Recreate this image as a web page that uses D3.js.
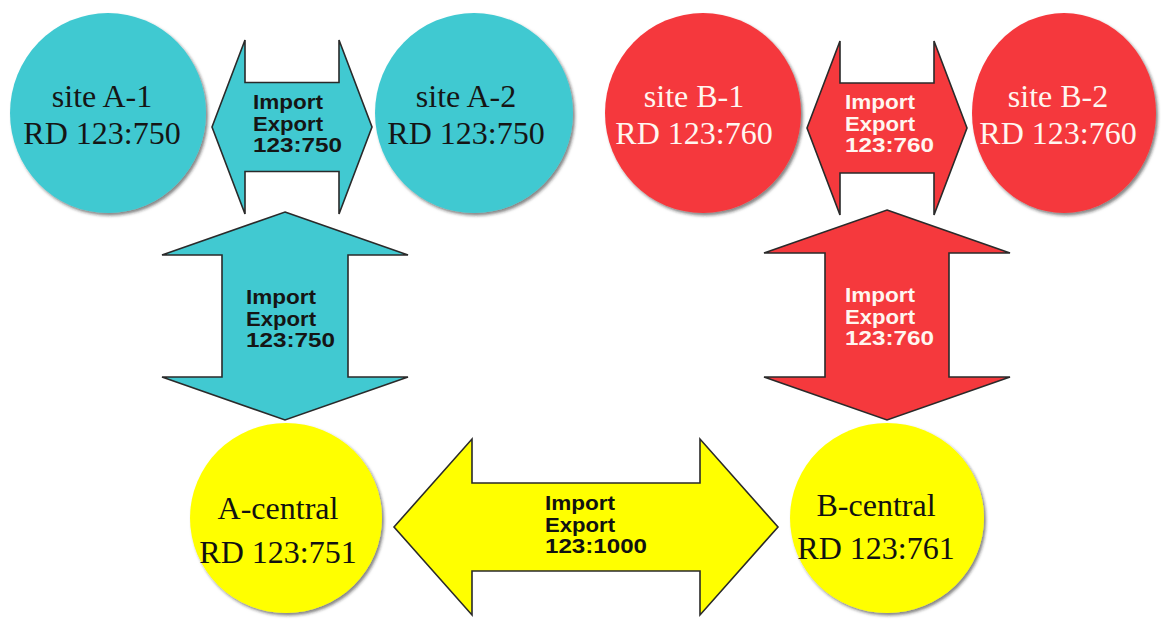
<!DOCTYPE html>
<html>
  <head>
    <meta charset="UTF-8">
    <title>Route target import / export</title>
    <script src="https://d3js.org/d3.v7.min.js"></script>
    <style>
      body { margin: 0; background: #fff; }
    </style>
  </head>
  <body>
    <svg width="1161" height="619"></svg>
    <script>
      // Nodes: site names, route distinguishers, colour group
      var nodeNames = ["site A-1", "site A-2", "site B-1", "site B-2", "A-central", "B-central"];
      var nodeRDs = ["RD 123:750", "RD 123:750", "RD 123:760", "RD 123:760", "RD 123:751", "RD 123:761"];
      var nodeGroups = ["A", "A", "B", "B", "C", "C"];

      // Links: import/export route targets between nodes
      var linkNames = ["A-top", "B-top", "A-down", "B-down", "central"];
      var linkTargets = ["123:750", "123:760", "123:750", "123:760", "123:1000"];
      var linkGroups = ["A", "B", "A", "B", "C"];
      var linkWords = ["Import", "Export"];

      // Layout (positions and sizes only)
      var nodeLayout = {
        "site A-1":  {cx: 108, cy: 113, rx: 98, ry: 100, tx: 102},
        "site A-2":  {cx: 474, cy: 113, rx: 99, ry: 100, tx: 466},
        "site B-1":  {cx: 703, cy: 113, rx: 98, ry: 100, tx: 694},
        "site B-2":  {cx: 1064, cy: 113, rx: 92, ry: 100, tx: 1058},
        "A-central": {cx: 286, cy: 518, rx: 96, ry: 95, tx: 278, y1: 508, y2: 552},
        "B-central": {cx: 887, cy: 518, rx: 97, ry: 95, tx: 876, y1: 505, y2: 548}
      };
      var linkLayout = {
        "A-top":  {x1: 212, y1: 127, x2: 372, y2: 127, head: 33, half: 87, shaft: 44.5, lx: 253, ly: 102},
        "B-top":  {x1: 807, y1: 128, x2: 967, y2: 128, head: 33, half: 87, shaft: 45, lx: 845, ly: 102},
        "A-down": {x1: 285, y1: 212, x2: 285, y2: 420, head: 43, half: 123, shaft: 63, lx: 246, ly: 297},
        "B-down": {x1: 887, y1: 210, x2: 887, y2: 420, head: 43, half: 123, shaft: 62, lx: 845, ly: 295},
        "central":{x1: 394, y1: 527, x2: 778, y2: 527, head: 78, half: 88, shaft: 44, lx: 545, ly: 503}
      };

      var fill = d3.scaleOrdinal().domain(["A", "B", "C"]).range(["#41c9d1", "#f5393d", "#ffff00"]);
      var ink = d3.scaleOrdinal().domain(["A", "B", "C"]).range(["#151515", "#fff6f0", "#111111"]);

      var svg = d3.select("svg");

      var defs = svg.append("defs");
      var f = defs.append("filter").attr("id", "shadow")
          .attr("x", "-10%").attr("y", "-10%").attr("width", "125%").attr("height", "125%");
      f.append("feDropShadow")
          .attr("dx", 2).attr("dy", 2.5).attr("stdDeviation", 1.6)
          .attr("flood-color", "#222").attr("flood-opacity", 0.55);

      var nodes = nodeNames.map(function(n, i) {
        return {name: n, rd: nodeRDs[i], group: nodeGroups[i], pos: nodeLayout[n]};
      });
      var links = linkNames.map(function(n, i) {
        return {name: n, rt: linkTargets[i], group: linkGroups[i], pos: linkLayout[n]};
      });

      // Nodes (ellipses)
      var node = svg.selectAll("g.node")
        .data(nodes)
        .join("g")
          .attr("class", "node");

      node.append("ellipse")
          .attr("cx", function(d) { return d.pos.cx; })
          .attr("cy", function(d) { return d.pos.cy; })
          .attr("rx", function(d) { return d.pos.rx; })
          .attr("ry", function(d) { return d.pos.ry; })
          .attr("fill", function(d) { return fill(d.group); })
          .attr("filter", "url(#shadow)");

      node.append("text")
          .attr("x", function(d) { return d.pos.tx; })
          .attr("y", function(d) { return d.pos.y1 || 96; })
          .text(function(d) { return d.name; });
      node.append("text")
          .attr("x", function(d) { return d.pos.tx; })
          .attr("y", function(d) { return d.pos.y2 || 133; })
          .text(function(d) { return d.rd; });

      node.selectAll("text")
          .attr("text-anchor", "middle")
          .attr("dominant-baseline", "central")
          .attr("font-family", "'Liberation Serif', 'DejaVu Serif', serif")
          .attr("font-size", 32)
          .attr("fill", function() { return ink(d3.select(this.parentNode).datum().group); });

      // Double-headed block arrows
      var line = d3.line();
      function arrowPoints(p) {
        var L = Math.hypot(p.x2 - p.x1, p.y2 - p.y1), h = p.head, H = p.half, S = p.shaft;
        return [[0, 0], [h, -H], [h, -S], [L - h, -S], [L - h, -H], [L, 0],
                [L - h, H], [L - h, S], [h, S], [h, H]];
      }

      var link = svg.selectAll("g.link")
        .data(links)
        .join("g")
          .attr("class", "link");

      link.append("path")
          .attr("transform", function(d) {
            var a = Math.atan2(d.pos.y2 - d.pos.y1, d.pos.x2 - d.pos.x1) * 180 / Math.PI;
            return "translate(" + d.pos.x1 + "," + d.pos.y1 + ") rotate(" + a + ")";
          })
          .attr("d", function(d) { return line(arrowPoints(d.pos)) + "Z"; })
          .attr("fill", function(d) { return fill(d.group); })
          .attr("stroke", "#2a2a2a")
          .attr("stroke-width", 1.6)
          .attr("stroke-linejoin", "miter");

      var lines = link.selectAll("text")
        .data(function(d) {
          return linkWords.concat([d.rt]).map(function(t, i) {
            return {text: t, i: i, link: d};
          });
        })
        .join("text")
          .attr("x", function(d) { return d.link.pos.lx; })
          .attr("y", function(d) { return d.link.pos.ly + d.i * 21.5; })
          .attr("dominant-baseline", "central")
          .attr("font-family", "'Liberation Sans', Arial, sans-serif")
          .attr("font-weight", "bold")
          .attr("font-size", 20)
          .attr("textLength", function(d) { return d.text.length === 8 ? 102 : d.text.length === 7 ? 89 : 70; })
          .attr("lengthAdjust", "spacingAndGlyphs")
          .attr("fill", function(d) { return ink(d.link.group); })
          .text(function(d) { return d.text; });
    </script>
  </body>
</html>
